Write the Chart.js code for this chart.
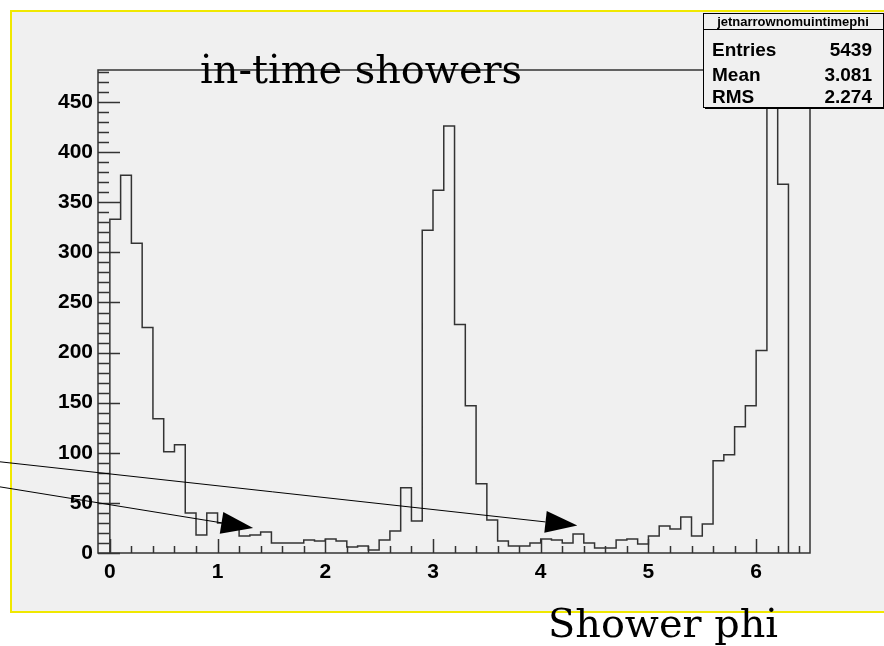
<!DOCTYPE html>
<html lang="en">

<head>
    <meta charset="UTF-8">
    <title>Shower phi</title>
    <style>
        html, body { margin: 0; padding: 0; background: #ffffff; }
        .chart-container { position: relative; width: 884px; height: 646px; }
    </style>
</head>

<body>
    <div class="chart-container">
        <canvas id="chart" width="884" height="646"></canvas>
    </div>
</body>

<script src="https://cdn.jsdelivr.net/npm/chart.js@4.4.1/dist/chart.umd.min.js"></script>

<script>
    // histogram: 63 bins of 0.1 starting at 0
    const binLow = 0;
    const binWidth = 0.1;
    const counts = [
        333, 377, 309, 225, 134, 101, 108, 40, 18, 40,
        30, 28, 17, 18, 21, 10, 10, 10, 13, 12,
        14, 12, 6, 7, 3, 13, 22, 65, 32, 322,
        362, 426, 228, 147, 69, 33, 12, 7, 7, 10,
        14, 13, 10, 19, 10, 5, 5, 13, 14, 9,
        17, 27, 24, 36, 17, 29, 92, 98, 126, 147,
        202, 459, 368
    ];
    const xTicks = [0, 1, 2, 3, 4, 5, 6];
    const yTicks = [0, 50, 100, 150, 200, 250, 300, 350, 400, 450];
    const xRange = [-0.11, 6.5];
    const yRange = [0, 482];

    const histTitle = 'in-time showers';
    const xTitle = 'Shower phi';
    const statsName = 'jetnarrownomuintimephi';
    const statsLabels = ['Entries', 'Mean', 'RMS'];
    const statsValues = ['5439', '3.081', '2.274'];

    // arrows in data coordinates [x, y]
    const arrowFrom = [[-1.02, 66], [-1.02, 91]];
    const arrowTo = [[1.33, 25], [4.34, 27.5]];

    // outline points for the step line
    let points = [{ x: binLow, y: 0 }];
    counts.forEach(function (c, i) {
        points.push({ x: binLow + i * binWidth, y: c });
    });
    points.push({ x: binLow + counts.length * binWidth, y: 0 });

    const labelFont = { family: 'Liberation Sans', size: 21, weight: 'bold' };

    const rootLook = {
        id: 'rootLook',
        beforeDraw(chart) {
            const c = chart.ctx;
            c.save();
            c.fillStyle = '#ffffff';
            c.fillRect(0, 0, chart.width, chart.height);
            c.fillStyle = '#f0f0f0';
            c.fillRect(11, 11, chart.width - 11, 601);
            c.strokeStyle = '#f0e800';
            c.lineWidth = 2;
            c.beginPath();
            c.moveTo(chart.width, 11);
            c.lineTo(11, 11);
            c.lineTo(11, 612);
            c.lineTo(chart.width, 612);
            c.stroke();
            c.restore();
        },
        afterDatasetsDraw(chart) {
            const c = chart.ctx;
            const a = chart.chartArea;
            const xs = chart.scales.x;
            const ys = chart.scales.y;
            c.save();

            // frame
            c.strokeStyle = '#333333';
            c.lineWidth = 1.5;
            c.strokeRect(a.left, a.top, a.right - a.left, a.bottom - a.top);

            // ticks drawn inside the frame
            c.beginPath();
            for (let v = 0; v <= yRange[1]; v += 10) {
                const y = Math.round(ys.getPixelForValue(v)) + 0.5;
                const len = (v % 50 === 0) ? 22 : 11;
                c.moveTo(a.left, y);
                c.lineTo(a.left + len, y);
            }
            for (let k = 0; k * 0.2 <= xRange[1]; k++) {
                const x = Math.round(xs.getPixelForValue(k * 0.2)) + 0.5;
                const len = (k % 5 === 0) ? 14 : 7;
                c.moveTo(x, a.bottom);
                c.lineTo(x, a.bottom - len);
            }
            c.lineWidth = 1.5;
            c.stroke();

            // arrows
            c.strokeStyle = '#000000';
            c.fillStyle = '#000000';
            c.lineWidth = 1;
            for (let i = 0; i < arrowFrom.length; i++) {
                const x0 = xs.getPixelForValue(arrowFrom[i][0]);
                const y0 = ys.getPixelForValue(arrowFrom[i][1]);
                const x1 = xs.getPixelForValue(arrowTo[i][0]);
                const y1 = ys.getPixelForValue(arrowTo[i][1]);
                const ang = Math.atan2(y1 - y0, x1 - x0);
                const hl = 32, hw = 11;
                const bx = x1 - hl * Math.cos(ang), by = y1 - hl * Math.sin(ang);
                c.beginPath();
                c.moveTo(x0, y0);
                c.lineTo(bx, by);
                c.stroke();
                c.beginPath();
                c.moveTo(x1, y1);
                c.lineTo(bx + hw * Math.sin(ang), by - hw * Math.cos(ang));
                c.lineTo(bx - hw * Math.sin(ang), by + hw * Math.cos(ang));
                c.closePath();
                c.fill();
            }

            // titles
            c.fillStyle = '#000000';
            c.font = '40px "DejaVu Serif"';
            c.textBaseline = 'alphabetic';
            c.textAlign = 'left';
            c.fillText(histTitle, 200, 83, 322);
            c.fillText(xTitle, 548, 637, 230);

            // stats box
            const bx0 = 703, by0 = 13, bw = 180, bh = 94;
            c.fillStyle = '#000000';
            c.fillRect(bx0 + 2, by0 + 2, bw, bh);
            c.fillStyle = '#f0f0f0';
            c.fillRect(bx0, by0, bw, bh);
            c.strokeStyle = '#000000';
            c.lineWidth = 1;
            c.strokeRect(bx0 + 0.5, by0 + 0.5, bw, bh);
            c.beginPath();
            c.moveTo(bx0, 29.5);
            c.lineTo(bx0 + bw, 29.5);
            c.stroke();
            c.fillStyle = '#000000';
            c.font = 'bold 13px "Liberation Sans"';
            c.textAlign = 'center';
            c.fillText(statsName, bx0 + bw / 2, 26, 162);
            c.font = 'bold 19px "Liberation Sans"';
            const rowY = [56, 81, 103];
            for (let i = 0; i < statsLabels.length; i++) {
                c.textAlign = 'left';
                c.fillText(statsLabels[i], 712, rowY[i]);
                c.textAlign = 'right';
                c.fillText(statsValues[i], 872, rowY[i]);
            }
            c.restore();
        }
    };

    let ctx = document.getElementById('chart');
    let data = {
        datasets: [{
            label: histTitle,
            data: points,
            stepped: 'before',
            borderColor: '#333333',
            borderWidth: 1.5,
            pointRadius: 0,
            fill: false,
            tension: 0
        }]
    };
    var config = {
        type: 'line',
        data: data,
        options: {
            responsive: false,
            animation: false,
            devicePixelRatio: 1,
            layout: { padding: { left: 0, top: 70, right: 74, bottom: 53 } },
            plugins: {
                legend: { display: false },
                tooltip: { enabled: false },
                title: { display: false }
            },
            scales: {
                x: {
                    type: 'linear',
                    min: xRange[0],
                    max: xRange[1],
                    grid: { display: false, drawTicks: false },
                    border: { display: false },
                    afterBuildTicks: function (s) { s.ticks = xTicks.map(v => ({ value: v })); },
                    afterFit: function (s) { s.height = 40; },
                    ticks: {
                        padding: 7,
                        color: '#000000',
                        font: labelFont,
                        maxRotation: 0,
                        autoSkip: false
                    }
                },
                y: {
                    min: yRange[0],
                    max: yRange[1],
                    grid: { display: false, drawTicks: false },
                    border: { display: false },
                    afterBuildTicks: function (s) { s.ticks = yTicks.map(v => ({ value: v })); },
                    afterFit: function (s) { s.width = 98; },
                    ticks: {
                        padding: 5,
                        color: '#000000',
                        font: labelFont,
                        autoSkip: false
                    }
                }
            }
        },
        plugins: [rootLook]
    };
    var chart = new Chart(ctx, config);
</script>

</html>
